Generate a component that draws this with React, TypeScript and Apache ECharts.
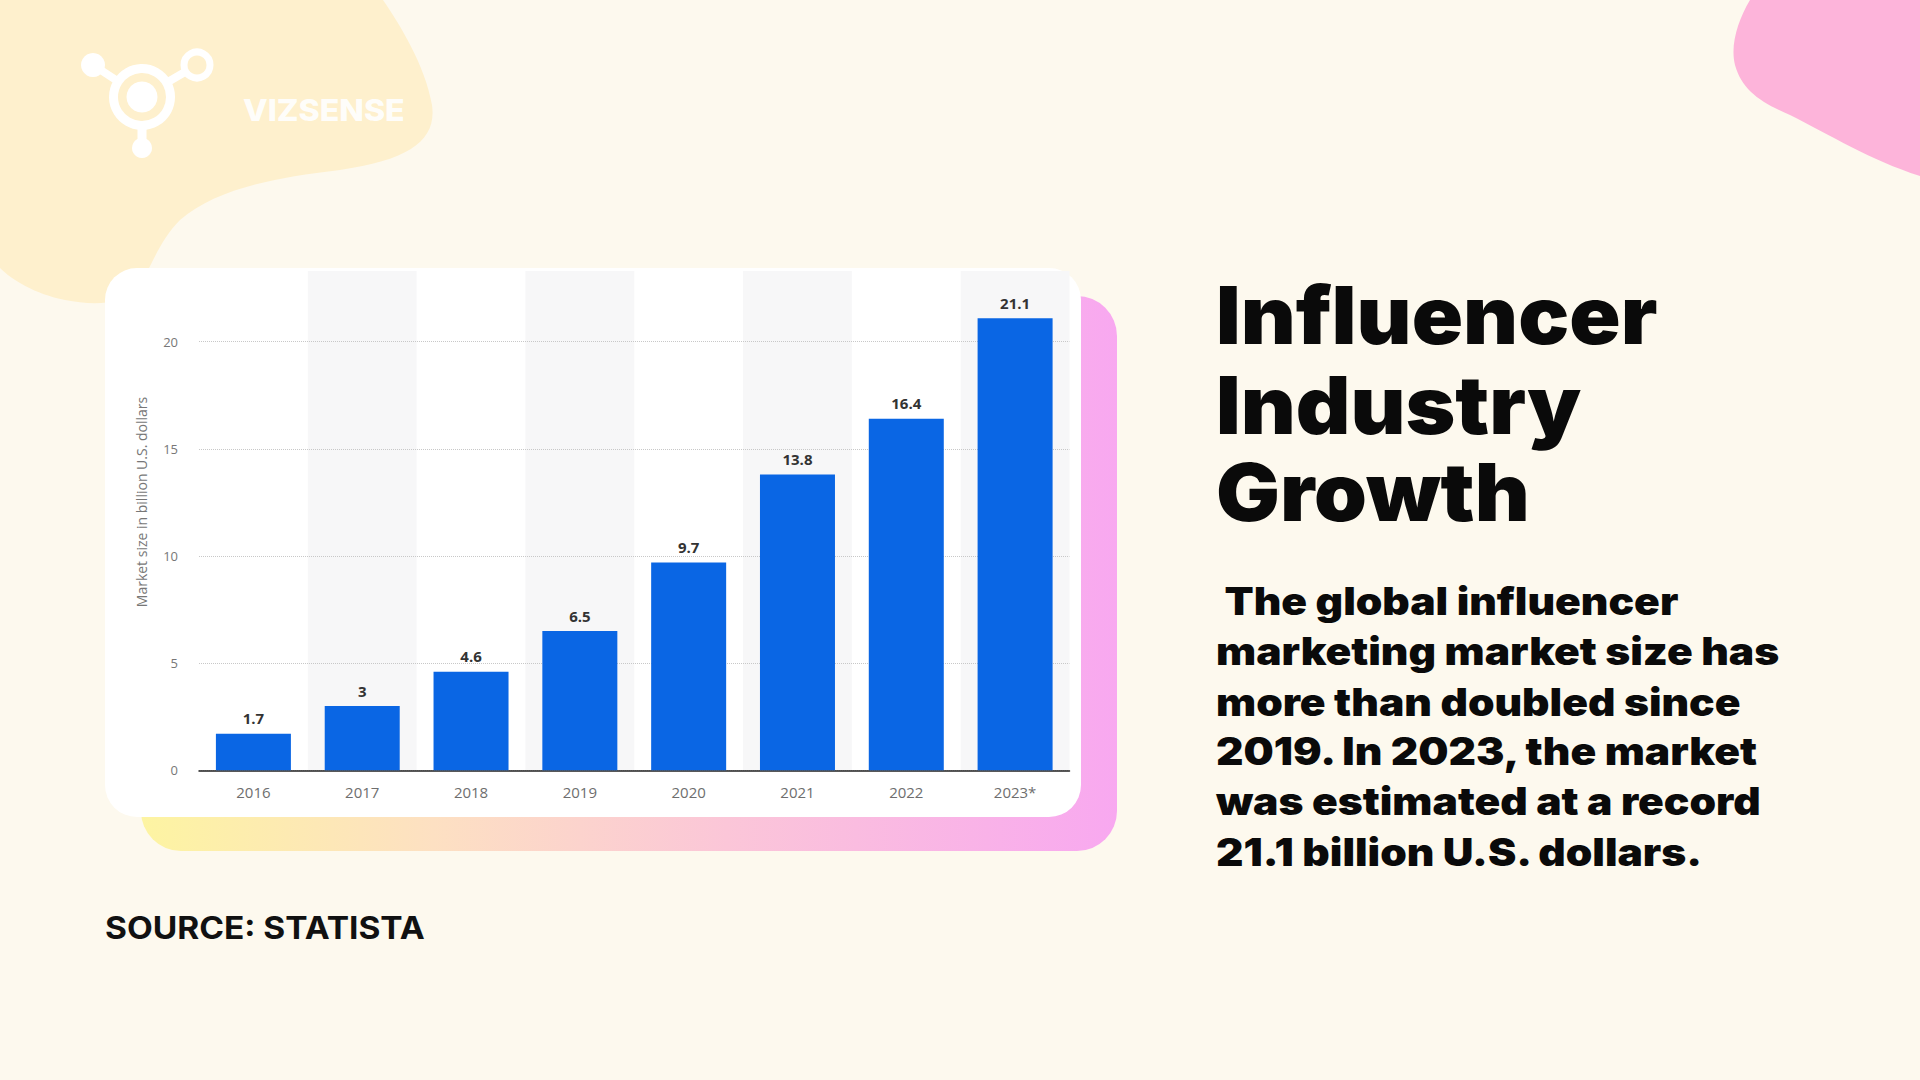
import React, { useEffect, useRef } from "react";
import * as echarts from "echarts";

// ---------- data ----------
const categories = ["2016", "2017", "2018", "2019", "2020", "2021", "2022", "2023*"];
const marketSize = [1.7, 3, 4.6, 6.5, 9.7, 13.8, 16.4, 21.1];
const yAxisName = "Market size in billion U.S. dollars";
const titleLines = ["Influencer", "Industry", "Growth"];
const bodyLines = [
  " The global influencer",
  "marketing market size has",
  "more than doubled since",
  "2019. In 2023, the market",
  "was estimated at a record",
  "21.1 billion U.S. dollars.",
];
const sourceText = "SOURCE: STATISTA";
const brandText = "VIZSENSE";

// ---------- decorative shapes ----------
const yellowBlobPath =
  "M0 0 L383 0 C400 25 425 65 432 105 C437 140 410 160 340 170 C270 178 215 190 180 220 C160 240 152 265 140 285 C125 305 95 306 65 300 C35 294 12 280 0 268 Z";
const pinkBlobPath =
  "M1750 0 C1738 20 1730 45 1735 65 C1742 90 1760 102 1790 115 C1830 135 1870 160 1920 176 L1920 0 Z";

let registered = false;
function registerShapes() {
  if (registered) return;
  echarts.graphic.registerShape("yellowBlob", echarts.graphic.extendPath(yellowBlobPath, {}));
  echarts.graphic.registerShape("pinkBlob", echarts.graphic.extendPath(pinkBlobPath, {}));
  registered = true;
}

const BG = "#fdf9ee";
const BLOB_Y = "#fef0cd";
const FONT_CHART = "Open Sans";
const FONT_TEXT = "Inter";

export default function App() {
  const ref = useRef<HTMLDivElement>(null);

  useEffect(() => {
    if (!ref.current) return;
    registerShapes();
    const chart = echarts.init(ref.current, undefined, { renderer: "svg" });

    const axisLeft = 199;
    const axisRight = 1069.5;
    const axisY = 770.3;
    const pxPerUnit = 21.43;
    const yMax = 22;

    const graphics: any[] = [
      { type: "yellowBlob", x: 0, y: 0, z: -20, style: { fill: BLOB_Y } },
      { type: "pinkBlob", x: 0, y: 0, z: -20, style: { fill: "#fdb4da" } },
      {
        type: "rect",
        z: -15,
        shape: { x: 141, y: 296, width: 976, height: 555, r: 40 },
        style: {
          fill: new echarts.graphic.LinearGradient(0, 0, 1, 0, [
            { offset: 0, color: "#fdf4a2" },
            { offset: 0.3, color: "#fde0c2" },
            { offset: 0.6, color: "#fbc6d8" },
            { offset: 1, color: "#f8a8f0" },
          ]),
        },
      },
      {
        type: "rect",
        z: -10,
        shape: { x: 105, y: 268, width: 976, height: 549, r: 32 },
        style: { fill: "#ffffff" },
      },
      // logo
      { type: "line", z: 5, shape: { x1: 93, y1: 65, x2: 142, y2: 97 }, style: { stroke: "#ffffff", lineWidth: 8, lineCap: "round" } },
      { type: "line", z: 5, shape: { x1: 142, y1: 97, x2: 197, y2: 65 }, style: { stroke: "#ffffff", lineWidth: 8, lineCap: "round" } },
      { type: "line", z: 5, shape: { x1: 142, y1: 97, x2: 142, y2: 146 }, style: { stroke: "#ffffff", lineWidth: 9, lineCap: "round" } },
      { type: "circle", z: 6, shape: { cx: 93, cy: 65, r: 12 }, style: { fill: "#ffffff" } },
      { type: "circle", z: 6, shape: { cx: 197, cy: 65, r: 13 }, style: { fill: BLOB_Y, stroke: "#ffffff", lineWidth: 7 } },
      { type: "circle", z: 6, shape: { cx: 142, cy: 97, r: 28.5 }, style: { fill: BLOB_Y, stroke: "#ffffff", lineWidth: 9 } },
      { type: "circle", z: 7, shape: { cx: 142, cy: 97, r: 15.5 }, style: { fill: "#ffffff" } },
      { type: "circle", z: 6, shape: { cx: 142, cy: 148, r: 10 }, style: { fill: "#ffffff" } },
      {
        type: "text",
        z: 6,
        x: 243,
        y: 110,
        scaleX: 1.07,
        style: { text: brandText, fill: "#ffffff", fontSize: 30, fontWeight: 800, fontFamily: FONT_TEXT, align: "left", verticalAlign: "middle", opacity: 0.92 },
      },
      // y-axis name
      {
        type: "text",
        z: 6,
        x: 141,
        y: 502,
        rotation: Math.PI / 2,
        style: { text: yAxisName, fill: "#777777", fontSize: 14, fontFamily: FONT_CHART, align: "center", verticalAlign: "middle" },
      },
      // source
      {
        type: "text",
        z: 6,
        x: 105,
        y: 928,
        scaleX: 1.08,
        style: { text: sourceText, fill: "#111111", fontSize: 31, fontWeight: 700, fontFamily: FONT_TEXT, align: "left", verticalAlign: "middle" },
      },
    ];

    const titleY = [315, 405, 492];
    titleLines.forEach((t, i) => {
      graphics.push({
        type: "text",
        z: 6,
        x: 1216,
        y: titleY[i],
        scaleX: 1.06,
        style: { text: t, fill: "#0a0a0a", fontSize: 80, lineHeight: 80, fontWeight: 900, fontFamily: FONT_TEXT, align: "left", verticalAlign: "middle" },
      });
    });
    const bodyY = [601, 651, 702, 751, 801, 852];
    bodyLines.forEach((t, i) => {
      graphics.push({
        type: "text",
        z: 6,
        x: 1216,
        y: bodyY[i],
        scaleX: 1.12,
        style: { text: t, fill: "#0a0a0a", fontSize: 38, lineHeight: 40, fontWeight: 900, fontFamily: FONT_TEXT, align: "left", verticalAlign: "middle" },
      });
    });

    const option: any = {
      animation: false,
      backgroundColor: BG,
      textStyle: { fontFamily: FONT_CHART },
      grid: [
        { left: axisLeft, right: 1920 - axisRight, top: 271, bottom: 1080 - axisY },
        { left: axisLeft, right: 1920 - axisRight, top: axisY - yMax * pxPerUnit, bottom: 1080 - axisY },
      ],
      xAxis: [
        {
          gridIndex: 0,
          type: "category",
          data: categories,
          z: 0,
          axisLine: { show: false },
          axisTick: { show: false },
          axisLabel: { show: false },
          splitArea: { show: true, interval: 0, areaStyle: { color: ["rgba(255,255,255,0)", "#f7f7f8"] } },
        },
        {
          gridIndex: 1,
          type: "category",
          data: categories,
          z: 2,
          axisLine: { lineStyle: { color: "#222222", width: 1.5 } },
          axisTick: { show: false },
          axisLabel: { color: "#6e6e6e", fontSize: 15, margin: 14, fontFamily: FONT_CHART },
        },
      ],
      yAxis: [
        { gridIndex: 0, type: "value", show: false },
        {
          gridIndex: 1,
          type: "value",
          min: 0,
          max: yMax,
          interval: 5,
          z: 1,
          axisLine: { show: false },
          axisTick: { show: false },
          axisLabel: { color: "#777777", fontSize: 13, margin: 21, showMaxLabel: false, fontFamily: FONT_CHART },
          splitLine: { show: true, showMaxLine: false, lineStyle: { type: "dotted", color: "#c8c8c8", width: 1 } },
        },
      ],
      series: [
        {
          type: "bar",
          xAxisIndex: 1,
          yAxisIndex: 1,
          data: marketSize,
          barWidth: 75,
          z: 3,
          itemStyle: { color: "#0a66e4" },
          label: {
            show: true,
            position: "top",
            distance: 8,
            color: "#333333",
            fontWeight: "bold",
            fontSize: 15,
            fontFamily: FONT_CHART,
          },
        },
      ],
      graphic: graphics,
    };

    chart.setOption(option);
    return () => chart.dispose();
  }, []);

  return (
    <div
      ref={ref}
      style={{ position: "absolute", left: 0, top: 0, width: 1920, height: 1080 }}
    />
  );
}
